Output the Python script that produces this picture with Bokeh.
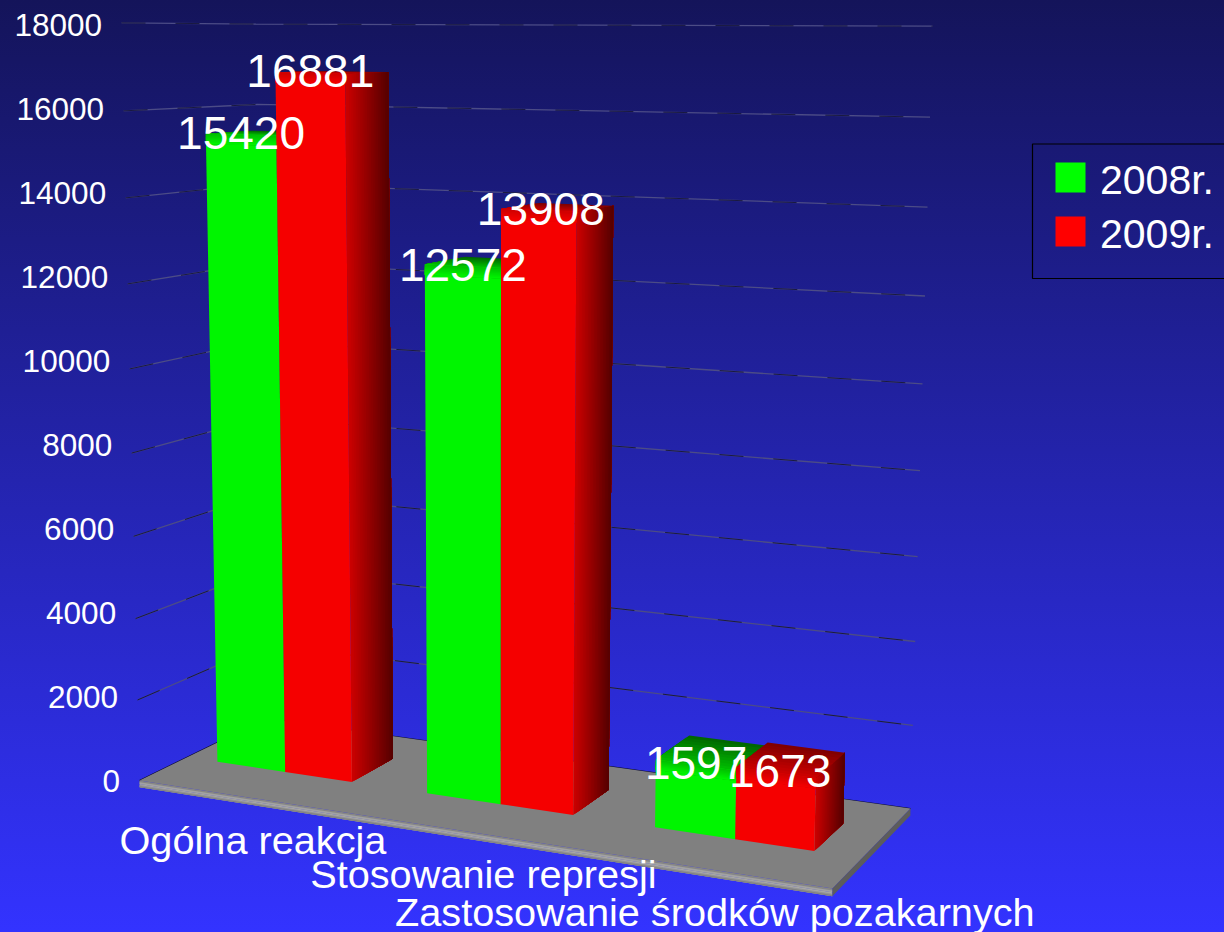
from bokeh.plotting import figure
from bokeh.models import ColumnDataSource
from bokeh.embed import file_html
from bokeh.resources import INLINE

# ---- chart data
categories = ["Ogólna reakcja", "Stosowanie represji", "Zastosowanie środków pozakarnych"]
series_names = ["2008r.", "2009r."]
values_2008 = [15420, 12572, 1597]
values_2009 = [16881, 13908, 1673]
tick_values = [0, 2000, 4000, 6000, 8000, 10000, 12000, 14000, 16000, 18000]

FONT = "Liberation Sans"
W, H = 1224, 932

# ---- perspective camera: (u along categories 0..1, w depth 0..1, v value) -> page position
A, B, C = 590.9, 151.2, 139.0
D, E, F = -0.96, 3.3, 780.0
G, HH = -0.1227, 0.09095
PV, QV, RV = -1.327, -42.15, -0.0027


def project(u, w, v):
    k = v / 1000.0
    den = G * u + HH * w + 1 + RV * k
    return (A * u + B * w + C + PV * k) / den, (D * u + E * w + F + QV * k) / den


p = figure(width=W, height=H, x_range=(0, W), y_range=(H, 0), output_backend="svg",
           toolbar_location=None, min_border=0, outline_line_color=None,
           background_fill_alpha=0, border_fill_alpha=0)
p.axis.visible = False
p.grid.visible = False
p.styles = {"position": "absolute", "left": "0px", "top": "0px",
            "background": "linear-gradient(#14145a, #3333ff)"}

polys = {"xs": [], "ys": [], "c": []}


def add_poly(points, color):
    polys["xs"].append([q[0] for q in points])
    polys["ys"].append([q[1] for q in points])
    polys["c"].append(color)


def mix(c0, c1, t):
    return "#%02x%02x%02x" % tuple(round(a + (b - a) * t) for a, b in zip(c0, c1))


def strips(p00, p10, p11, p01, c0, c1, n):
    """Quad shaded from edge p00-p01 (c0) to edge p10-p11 (c1); each step paints over the
    remainder of the quad, so no seams show between steps."""
    for i in range(n):
        t0 = i / n
        lerp = lambda a, b, t: (a[0] + (b[0] - a[0]) * t, a[1] + (b[1] - a[1]) * t)
        add_poly([lerp(p00, p10, t0), p10, p11, lerp(p01, p11, t0)], mix(c0, c1, (i + .5) / n))


# ---- walls
for v in tick_values[1:]:
    left = [project(0, 0, v), project(0, 1, v), project(1, 1, v)]
    xs = [q[0] for q in left]
    ys = [q[1] for q in left]
    p.line(xs, ys, line_color="#4c4c86", line_width=1.3)
    p.line(xs, ys, line_color="#0c0c30", line_width=1.0, line_alpha=0.8, line_dash="24 30")
base_line = [project(0, 0, 0), project(0, 1, 0), project(1, 1, 0)]
p.line([q[0] for q in base_line], [q[1] for q in base_line], line_color="#0c0c30", line_width=1.2)

# ---- floor slab
SLAB = -170
add_poly([project(0, 0, 0), project(1, 0, 0), project(1, 1, 0), project(0, 1, 0)], "#808080")
strips(project(0, 0, 0), project(0, 0, SLAB * .5), project(1, 0, SLAB * .5), project(1, 0, 0),
       (120, 120, 120), (176, 176, 176), 2)
strips(project(0, 0, SLAB * .5), project(0, 0, SLAB), project(1, 0, SLAB), project(1, 0, SLAB * .5),
       (176, 176, 176), (120, 120, 120), 3)
add_poly([project(1, 0, 0), project(1, 0, SLAB), project(1, 1, SLAB), project(1, 1, 0)], "#5c5c5c")

# ---- bars
SHADES = [
    {"front": (0, 245, 0), "edge": (0, 190, 0), "back": (0, 100, 0), "side": (0, 200, 0), "dark": (0, 80, 0)},
    {"front": (245, 0, 0), "edge": (205, 0, 0), "back": (125, 0, 0), "side": (205, 0, 0), "dark": (85, 0, 0)},
]
GROUP_START, GROUP_STEP = 0.1617, 0.3345
BAR_SPANS = [(-0.1111, 0.0), (0.0, 0.1065)]
W_FRONT, W_BACK = 0.355, 0.71
BEVEL = 240
label_pos = {"x": [], "y": [], "t": []}

for k in range(len(categories)):
    for s, vals in enumerate([values_2008, values_2009]):
        v = vals[k]
        c = SHADES[s]
        centre = GROUP_START + GROUP_STEP * k
        u0, u1 = centre + BAR_SPANS[s][0], centre + BAR_SPANS[s][1]
        # side face
        strips(project(u1, W_FRONT, 0), project(u1, W_BACK, 0), project(u1, W_BACK, v),
               project(u1, W_FRONT, v), c["side"], c["dark"], 24)
        # top face
        strips(project(u0, W_BACK, v), project(u0, W_FRONT, v), project(u1, W_FRONT, v),
               project(u1, W_BACK, v), c["back"], c["edge"], 10)
        # front face
        add_poly([project(u0, W_FRONT, 0), project(u1, W_FRONT, 0),
                  project(u1, W_FRONT, v), project(u0, W_FRONT, v)], mix(c["front"], c["front"], 0))
        strips(project(u0, W_FRONT, v), project(u0, W_FRONT, v - BEVEL),
               project(u1, W_FRONT, v - BEVEL), project(u1, W_FRONT, v), c["edge"], c["front"], 8)
        top_l, top_r = project(u0, W_FRONT, v), project(u1, W_FRONT, v)
        label_pos["x"].append((top_l[0] + top_r[0]) / 2 + s * k * 2)
        label_pos["y"].append((top_l[1] + top_r[1]) / 2 - 1.5)
        label_pos["t"].append(str(v))

src = ColumnDataSource(polys)
p.patches("xs", "ys", source=src, fill_color="c", line_color=None)

# ---- value tick labels, set along the slanted left edge
tx = [project(0, 0, v)[0] - 19.5 for v in tick_values]
ty = [780 - v * 0.042 for v in tick_values]
p.text(tx, ty, text=[str(v) for v in tick_values], text_align="right", text_baseline="middle",
       text_color="white", text_font_size="31.5px", text_font={"value": FONT})

# ---- category labels
NUDGE = [10, 20, 11]
cx = [project((k + .5) / 3, 0, 0)[0] + NUDGE[k] for k in range(3)]
cy = [project((k + .5) / 3, 0, 0)[1] + 43.5 for k in range(3)]
p.text(cx, cy, text=categories, text_align="center", text_baseline="middle",
       text_color="white", text_font_size="39.7px", text_font={"value": FONT})

# ---- data labels
p.text(label_pos["x"], label_pos["y"], text=label_pos["t"], text_align="center", text_baseline="middle",
       text_color="white", text_font_size="46px", text_font={"value": FONT})

# ---- legend
p.quad(left=[1032], right=[1240], top=[143.5], bottom=[278], fill_alpha=0, line_color="black", line_width=1.2)
swatch_y = [162, 216]
p.quad(left=[1055, 1055], right=[1085, 1085], top=swatch_y, bottom=[y + 30 for y in swatch_y],
       fill_color=["#00ff00", "#ff0000"], line_color=None)
p.text([1099.5, 1099.5], [y + 17 for y in swatch_y], text=series_names, text_align="left", text_baseline="middle",
       text_color="white", text_font_size="41px", text_font={"value": FONT})

open("out.html", "w").write(file_html(p, INLINE))
